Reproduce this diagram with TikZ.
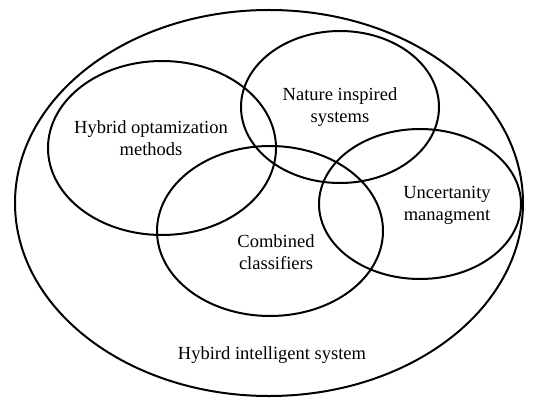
\documentclass[tikz,border=0pt]{standalone}
\usepackage{fontspec}
\setmainfont{Liberation Serif}
\usepackage{tikz}
\usetikzlibrary{positioning}
\tikzset{set/.style={line width=2pt, black},
    lbl/.style={align=center, font=\fontsize{18.5}{22}\selectfont, inner sep=0pt}}

\begin{document}
\begin{tikzpicture}[x=1pt, y=-1pt]
    \useasboundingbox (0,0) rectangle (545,398);
\draw[set] (269,203) ellipse [x radius=254, y radius=193];
\draw[set] (162,148) ellipse [x radius=114, y radius=87];
\draw[set] (340,107) ellipse [x radius=99, y radius=76];
\draw[set] (270,231) ellipse [x radius=113, y radius=85];
\draw[set] (420,204) ellipse [x radius=101, y radius=75];

\node[lbl] (hyb) at (151,138) {Hybrid optamization\\methods};
\node[lbl] (nat) at (340,107) {Nature inspired\\systems};
\node[lbl] (unc) at (447,205) {Uncertanity\\managment};
\node[lbl] (com) at (276,252) {Combined\\classifiers};
\node[lbl] (his) at (272,355) {Hybird intelligent system};

\end{tikzpicture}
\end{document}
